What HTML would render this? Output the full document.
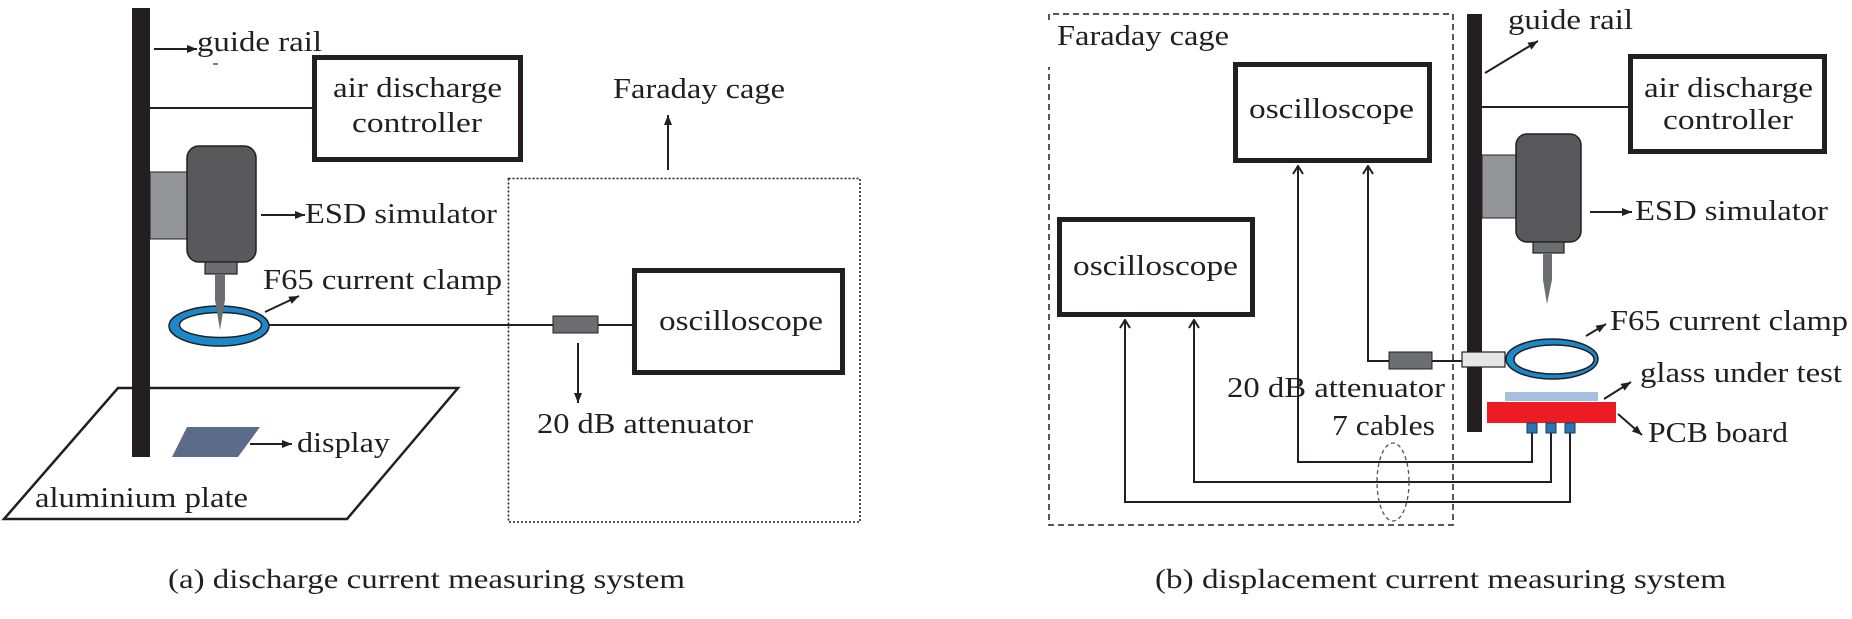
<!DOCTYPE html>
<html>
<head>
<meta charset="utf-8">
<style>
  html,body{margin:0;padding:0;background:#fff;}
  svg{display:block;}
  text{font-family:"Liberation Serif",serif;fill:#231f20;}
</style>
</head>
<body>
<svg width="1852" height="619" viewBox="0 0 1852 619" xmlns="http://www.w3.org/2000/svg">
  <defs>
    <marker id="ah" viewBox="0 0 10 8" refX="10" refY="4" markerWidth="10" markerHeight="8" markerUnits="userSpaceOnUse" orient="auto">
      <path d="M0,0 L10,4 L0,8 z" fill="#231f20"/>
    </marker>
    <marker id="ch" viewBox="0 0 10 12" refX="9" refY="6" markerWidth="10" markerHeight="12" markerUnits="userSpaceOnUse" orient="auto">
      <path d="M1,1 L9,6 L1,11" fill="none" stroke="#231f20" stroke-width="2"/>
    </marker>
  </defs>

  <rect width="1852" height="619" fill="#fff"/>

  <!-- ================= (a) ================= -->
  <polygon points="118,388 458,388 347,519 4,519" fill="none" stroke="#231f20" stroke-width="2.5"/>
  <rect x="132" y="8" width="18" height="449" fill="#231f20"/>
  <line x1="154" y1="49" x2="197" y2="49" stroke="#231f20" stroke-width="2" marker-end="url(#ah)"/>
  <line x1="213" y1="64" x2="218" y2="64" stroke="#555" stroke-width="1.5"/>
  <line x1="150" y1="108" x2="313" y2="108" stroke="#231f20" stroke-width="2"/>
  <rect x="314.5" y="57.5" width="206" height="102" fill="#fff" stroke="#231f20" stroke-width="5"/>
  <rect x="150" y="172" width="37" height="67" fill="#939598" stroke="#231f20" stroke-width="1"/>
  <rect x="187" y="146" width="69" height="116" rx="12" ry="12" fill="#59595b" stroke="#231f20" stroke-width="1.5"/>
  <rect x="205" y="262" width="32" height="12" fill="#6d6e71" stroke="#231f20" stroke-width="1.2"/>
  <line x1="261" y1="215" x2="305" y2="215" stroke="#231f20" stroke-width="2" marker-end="url(#ah)"/>
  <ellipse cx="219" cy="326" rx="50" ry="20" fill="#1a88c9" stroke="#231f20" stroke-width="1.5"/>
  <ellipse cx="220.5" cy="325" rx="41" ry="12.5" fill="#fff" stroke="#231f20" stroke-width="1.5"/>
  <polygon points="215,274 225,274 225,300 220,330 215,300" fill="#6d6e71"/>
  <line x1="265" y1="312" x2="299" y2="296" stroke="#231f20" stroke-width="2" marker-end="url(#ah)"/>
  <line x1="269" y1="325" x2="553" y2="325" stroke="#231f20" stroke-width="2"/>
  <rect x="553" y="316" width="45" height="17" fill="#6d6e71" stroke="#231f20" stroke-width="1"/>
  <line x1="598" y1="325" x2="634" y2="325" stroke="#231f20" stroke-width="2"/>
  <rect x="508.5" y="178.5" width="351.5" height="343.5" fill="none" stroke="#231f20" stroke-width="1.6" stroke-dasharray="2,2"/>
  <line x1="668" y1="170" x2="668" y2="115" stroke="#231f20" stroke-width="2" marker-end="url(#ah)"/>
  <rect x="634.5" y="270.5" width="208" height="102" fill="#fff" stroke="#231f20" stroke-width="5"/>
  <line x1="578" y1="343" x2="578" y2="403" stroke="#231f20" stroke-width="2" marker-end="url(#ah)"/>
  <polygon points="187,427 260,427 238,457 172,457" fill="#5b6b88"/>
  <line x1="250" y1="444" x2="292" y2="444" stroke="#231f20" stroke-width="2" marker-end="url(#ah)"/>

  <!-- (a) text -->
  <text x="197" y="51" font-size="29" textLength="125" lengthAdjust="spacingAndGlyphs">guide rail</text>
  <text x="333" y="97" font-size="29" textLength="169" lengthAdjust="spacingAndGlyphs">air discharge</text>
  <text x="352" y="132" font-size="29" textLength="130" lengthAdjust="spacingAndGlyphs">controller</text>
  <text x="305" y="223" font-size="29" textLength="192" lengthAdjust="spacingAndGlyphs">ESD simulator</text>
  <text x="263" y="289" font-size="29" textLength="239" lengthAdjust="spacingAndGlyphs">F65 current clamp</text>
  <text x="613" y="98" font-size="29" textLength="172" lengthAdjust="spacingAndGlyphs">Faraday cage</text>
  <text x="659" y="330" font-size="29" textLength="164" lengthAdjust="spacingAndGlyphs">oscilloscope</text>
  <text x="537" y="433" font-size="29" textLength="216" lengthAdjust="spacingAndGlyphs">20 dB attenuator</text>
  <text x="297" y="452" font-size="29" textLength="93" lengthAdjust="spacingAndGlyphs">display</text>
  <text x="35" y="507" font-size="29" textLength="213" lengthAdjust="spacingAndGlyphs">aluminium plate</text>
  <text x="168" y="588" font-size="27" textLength="517" lengthAdjust="spacingAndGlyphs">(a) discharge current measuring system</text>

  <!-- ================= (b) ================= -->
  <path d="M1049,20 L1049,14 L1453,14 L1453,525 L1049,525 L1049,67" fill="none" stroke="#231f20" stroke-width="1.5" stroke-dasharray="6,4"/>
  <rect x="1467" y="14" width="15" height="418" fill="#231f20"/>
  <line x1="1485" y1="73" x2="1538" y2="41" stroke="#231f20" stroke-width="2" marker-end="url(#ah)"/>
  <line x1="1482" y1="107" x2="1629" y2="107" stroke="#231f20" stroke-width="2"/>
  <rect x="1630.5" y="56.5" width="194" height="95" fill="#fff" stroke="#231f20" stroke-width="5"/>
  <rect x="1482" y="155" width="35" height="63" fill="#939598" stroke="#231f20" stroke-width="1"/>
  <rect x="1516" y="134" width="65" height="108" rx="11" ry="11" fill="#59595b" stroke="#231f20" stroke-width="1.5"/>
  <rect x="1533" y="242" width="31" height="11" fill="#6d6e71" stroke="#231f20" stroke-width="1.2"/>
  <polygon points="1543,253 1552,253 1552,280 1547,304 1543,280" fill="#6d6e71"/>
  <line x1="1590" y1="212" x2="1632" y2="212" stroke="#231f20" stroke-width="2" marker-end="url(#ah)"/>
  <rect x="1235.5" y="64.5" width="194" height="96" fill="#fff" stroke="#231f20" stroke-width="5"/>
  <rect x="1059.5" y="219.5" width="193" height="95" fill="#fff" stroke="#231f20" stroke-width="5"/>
  <polyline points="1532,433 1532,462 1298,462 1298,166" fill="none" stroke="#231f20" stroke-width="2" marker-end="url(#ch)"/>
  <polyline points="1551,433 1551,482 1194,482 1194,320" fill="none" stroke="#231f20" stroke-width="2" marker-end="url(#ch)"/>
  <polyline points="1570,433 1570,502 1125,502 1125,320" fill="none" stroke="#231f20" stroke-width="2" marker-end="url(#ch)"/>
  <polyline points="1389,361 1368,361 1368,166" fill="none" stroke="#231f20" stroke-width="2" marker-end="url(#ch)"/>
  <rect x="1389" y="352" width="43" height="17" fill="#6d6e71" stroke="#231f20" stroke-width="1"/>
  <line x1="1432" y1="361" x2="1462" y2="361" stroke="#231f20" stroke-width="2"/>
  <rect x="1462" y="352" width="43" height="15" fill="#e6e6e6" stroke="#231f20" stroke-width="1.2"/>
  <ellipse cx="1552" cy="359" rx="46" ry="20" fill="#1a88c9" stroke="#231f20" stroke-width="1.5"/>
  <ellipse cx="1554" cy="359.5" rx="40" ry="14.5" fill="#fff" stroke="#231f20" stroke-width="1.5"/>
  <line x1="1586" y1="336" x2="1606" y2="324" stroke="#231f20" stroke-width="2" marker-end="url(#ah)"/>
  <rect x="1505" y="392" width="93" height="9" fill="#a7bfe0"/>
  <rect x="1487" y="402" width="129" height="21" fill="#ed1c24"/>
  <rect x="1527" y="423" width="10" height="10" fill="#2a75b3" stroke="#1b3a5c" stroke-width="1"/>
  <rect x="1546" y="423" width="10" height="10" fill="#2a75b3" stroke="#1b3a5c" stroke-width="1"/>
  <rect x="1565" y="423" width="10" height="10" fill="#2a75b3" stroke="#1b3a5c" stroke-width="1"/>
  <line x1="1604" y1="399" x2="1631" y2="382" stroke="#231f20" stroke-width="2" marker-end="url(#ah)"/>
  <line x1="1618" y1="414" x2="1642" y2="435" stroke="#231f20" stroke-width="2" marker-end="url(#ah)"/>
  <ellipse cx="1393" cy="482" rx="16" ry="39" fill="none" stroke="#555" stroke-width="1.3" stroke-dasharray="4,3"/>

  <!-- (b) text -->
  <text x="1057" y="45" font-size="29" textLength="172" lengthAdjust="spacingAndGlyphs">Faraday cage</text>
  <text x="1508" y="29" font-size="29" textLength="125" lengthAdjust="spacingAndGlyphs">guide rail</text>
  <text x="1644" y="97" font-size="29" textLength="169" lengthAdjust="spacingAndGlyphs">air discharge</text>
  <text x="1663" y="129" font-size="29" textLength="130" lengthAdjust="spacingAndGlyphs">controller</text>
  <text x="1249" y="118" font-size="29" textLength="165" lengthAdjust="spacingAndGlyphs">oscilloscope</text>
  <text x="1635" y="220" font-size="29" textLength="193" lengthAdjust="spacingAndGlyphs">ESD simulator</text>
  <text x="1073" y="275" font-size="29" textLength="165" lengthAdjust="spacingAndGlyphs">oscilloscope</text>
  <text x="1610" y="330" font-size="29" textLength="238" lengthAdjust="spacingAndGlyphs">F65 current clamp</text>
  <text x="1640" y="382" font-size="29" textLength="202" lengthAdjust="spacingAndGlyphs">glass under test</text>
  <text x="1227" y="397" font-size="29" textLength="218" lengthAdjust="spacingAndGlyphs">20 dB attenuator</text>
  <text x="1648" y="442" font-size="29" textLength="140" lengthAdjust="spacingAndGlyphs">PCB board</text>
  <text x="1332" y="435" font-size="29" textLength="103" lengthAdjust="spacingAndGlyphs">7 cables</text>
  <text x="1155" y="588" font-size="27" textLength="571" lengthAdjust="spacingAndGlyphs">(b) displacement current measuring system</text>
</svg>
</body>
</html>
